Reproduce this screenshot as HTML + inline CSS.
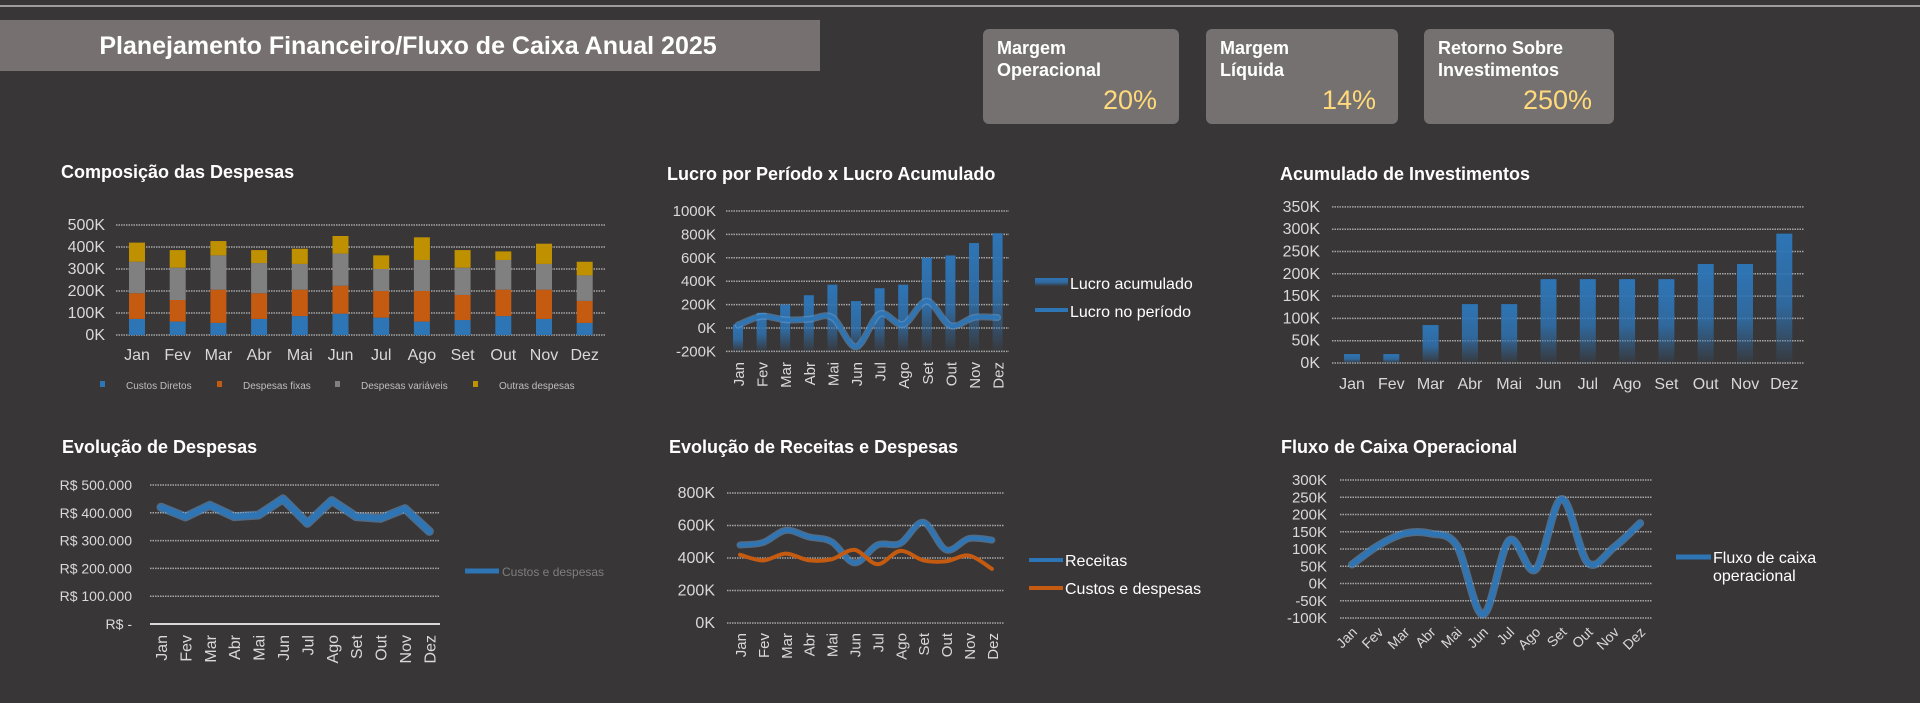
<!DOCTYPE html>
<html><head><meta charset="utf-8">
<style>
html,body{margin:0;padding:0;background:#383637;}
body{width:1920px;height:703px;overflow:hidden;position:relative;font-family:"Liberation Sans Narrow","Liberation Sans",sans-serif;}
.card{position:absolute;background:#767171;border-radius:6px;color:#fff;}
.card .lbl{position:absolute;left:14px;top:8px;font-weight:bold;font-size:18px;line-height:22px;}
.card .val{position:absolute;right:22px;top:56px;font-size:27px;color:#ffd97a;}
svg text{font-family:"Liberation Sans Narrow","Liberation Sans",sans-serif;}
</style></head>
<body>
<svg id="s" width="1920" height="703" style="position:absolute;left:0;top:0">
<defs>
<linearGradient id="bg1" x1="0" y1="0" x2="0" y2="1"><stop offset="0" stop-color="#2e75b6"/><stop offset="0.55" stop-color="#2e75b6" stop-opacity="0.8"/><stop offset="1" stop-color="#2e75b6" stop-opacity="0.05"/></linearGradient>
</defs>
<line x1="0" y1="6" x2="1920" y2="6" stroke="#bfbfbf" stroke-width="1.5"/>
<rect x="0" y="20" width="820" height="51" fill="#767170"/>
<text x="408" y="54" text-anchor="middle" fill="#fff" font-size="25" font-weight="bold">Planejamento Financeiro/Fluxo de Caixa Anual 2025</text>
<g id="charts"></g>
</svg>
<div class="card" style="left:983px;top:29px;width:196px;height:95px"><div class="lbl">Margem<br>Operacional</div><div class="val">20%</div></div>
<div class="card" style="left:1206px;top:29px;width:192px;height:95px"><div class="lbl">Margem<br>Líquida</div><div class="val">14%</div></div>
<div class="card" style="left:1424px;top:29px;width:190px;height:95px"><div class="lbl">Retorno Sobre<br>Investimentos</div><div class="val">250%</div></div>
<script>
const months=["Jan","Fev","Mar","Abr","Mai","Jun","Jul","Ago","Set","Out","Nov","Dez"];
const custosDiretos=[73,61,55,73,86,97,79,61,68,86,73,55];
const despesasFixas=[117,98,151,117,120,127,121,139,114,120,133,100];
const despesasVariaveis=[143,147,156,137,117,146,100,141,124,135,117,116];
const outrasDespesas=[87,80,65,59,69,80,62,103,80,39,92,62];
const lucroAcumulado=[30,130,200,280,370,230,340,370,600,620,726,810];
const lucroPeriodo=[25,100,70,75,90,-160,120,30,230,20,90,90];
const investAcumulado=[20,20,85,132,132,188,188,188,188,222,222,290];
const custosDespesas=[420,385,427,386,392,450,362,444,386,380,415,333];
const receitas=[480,495,570,530,500,370,480,490,620,450,520,510];
const fluxoCaixa=[55,110,145,145,110,-90,125,40,245,60,105,175];

const NS="http://www.w3.org/2000/svg";
const root=document.getElementById('charts');
function mk(tag,attrs,parent){const e=document.createElementNS(NS,tag);for(const k in attrs)e.setAttribute(k,attrs[k]);(parent||root).appendChild(e);return e;}
function txt(x,y,s,size,fill,anchor,extra){const e=mk('text',Object.assign({x:x,y:y,'font-size':size,fill:fill,'text-anchor':anchor||'start'},extra||{}));e.textContent=s;return e;}
function smooth(pts){let d="M"+pts[0][0]+","+pts[0][1];for(let i=0;i<pts.length-1;i++){const p0=pts[i-1]||pts[i],p1=pts[i],p2=pts[i+1],p3=pts[i+2]||p2;const c1=[p1[0]+(p2[0]-p0[0])/6,p1[1]+(p2[1]-p0[1])/6],c2=[p2[0]-(p3[0]-p1[0])/6,p2[1]-(p3[1]-p1[1])/6];d+=" C"+c1+" "+c2+" "+p2;}return d;}
function straight(pts){return "M"+pts.map(p=>p.join(",")).join(" L");}
function grid(x0,x1,yFn,ticks,labelFn,labelX,size){ticks.forEach(t=>{const y=yFn(t);const l=mk('line',{x1:x0,x2:x1,y1:y,y2:y,stroke:'#a6a6a6','stroke-width':1.5,'stroke-dasharray':'1.5 1'});const tx=txt(labelX,y+5,labelFn(t),size||16,'#d9d9d9','end');});}
function title(x,y,s){const t=txt(x,y,s,18,'#fff','start',{'font-weight':'bold'});}
function rotLabels(xFn,y,size){months.forEach((m,i)=>{const t=txt(xFn(i)+6,y,m,size,'#d9d9d9','end',{transform:'rotate(-90 '+(xFn(i)+6)+' '+y+')'});});}
function line(d,color,w,glow){if(glow){const g=mk('path',{d:d,fill:'none',stroke:'#6a9fd4','stroke-opacity':0.5,'stroke-width':w+3,'stroke-linejoin':'round','stroke-linecap':'round'});}const p=mk('path',{d:d,fill:'none',stroke:color,'stroke-width':w,'stroke-linejoin':'round','stroke-linecap':'round'});return p;}

// Chart 1
title(61,178,"Composição das Despesas");
{const y=v=>335-v*0.22, x=i=>137+i*40.7;
grid(116,606,y,[0,100,200,300,400,500],t=>t+"K",105,16);
const series=[custosDiretos,despesasFixas,despesasVariaveis,outrasDespesas],cols=['#2e75b6','#c55a11','#808080','#bf9000'],names=['bar-custos-diretos','bar-despesas-fixas','bar-despesas-variaveis','bar-outras-despesas'];
months.forEach((m,i)=>{let acc=0;series.forEach((s,k)=>{const r=mk('rect',{x:x(i)-8,y:y(acc+s[i]),width:16,height:s[i]*0.22,fill:cols[k]});acc+=s[i];});
const t=txt(x(i),360,m,16,'#d9d9d9','middle');});
const leg=[['Custos Diretos',100],['Despesas fixas',217],['Despesas variáveis',335],['Outras despesas',473]];
leg.forEach((l,k)=>{const r=mk('rect',{x:l[1],y:381,width:5,height:6,fill:cols[k]});const t=txt(l[1]+26,389,l[0],10,'#bfbfbf');});}

// Chart 2
title(667,180,"Lucro por Período x Lucro Acumulado");
{const y=v=>328-v*0.117, x=i=>738+i*23.6;
grid(726,1009,y,[-200,0,200,400,600,800,1000],t=>t+"K",716,15);
months.forEach((m,i)=>{const r=mk('rect',{x:x(i)-5,y:y(lucroAcumulado[i]),width:10,height:y(-200)-y(lucroAcumulado[i]),fill:'url(#bg1)'});});
line(smooth(lucroPeriodo.map((v,i)=>[x(i),y(v)])),'#2e75b6',4,true);
rotLabels(x,362,15);
const a=mk('rect',{x:1035,y:278,width:33,height:8,fill:'url(#bg1)'});
let t=txt(1070,289,'Lucro acumulado',16,'#fff');
const b=mk('line',{x1:1035,x2:1068,y1:310,y2:310,stroke:'#2e75b6','stroke-width':4});
t=txt(1070,317,'Lucro no período',16,'#fff');}

// Chart 3
title(1280,180,"Acumulado de Investimentos");
{const y=v=>363-v*0.446, x=i=>1352+i*39.3;
grid(1332,1804,y,[0,50,100,150,200,250,300,350],t=>t+"K",1320,16);
months.forEach((m,i)=>{const r=mk('rect',{x:x(i)-8,y:y(investAcumulado[i]),width:16,height:investAcumulado[i]*0.446,fill:'url(#bg1)'});
const t=txt(x(i),389,m,16,'#d9d9d9','middle');});}

// Chart 4
title(62,453,"Evolução de Despesas");
{const y=v=>624-v*0.278, x=i=>161+i*24.4;
grid(150,440,y,[0,100,200,300,400,500],t=>t===0?"R$ -":"R$ "+t+".000",132,14);
mk('line',{x1:150,x2:440,y1:624,y2:624,stroke:'#d9d9d9','stroke-width':2});
line(straight(custosDespesas.map((v,i)=>[x(i),y(v)])),'#2e75b6',6,true);
rotLabels(x,635,16);
const b=mk('line',{x1:465,x2:499,y1:571,y2:571,stroke:'#2e75b6','stroke-width':5});
const t=txt(502,576,'Custos e despesas',12,'#7f7f7f');}

// Chart 5
title(669,453,"Evolução de Receitas e Despesas");
{const y=v=>623-v*0.1625, x=i=>740+i*22.9;
grid(727,1004,y,[0,200,400,600,800],t=>t+"K",715,16);
line(smooth(receitas.map((v,i)=>[x(i),y(v)])),'#2e75b6',4,true);
line(smooth(custosDespesas.map((v,i)=>[x(i),y(v)])),'#c55a11',4,false);
rotLabels(x,633,15);
let b=mk('line',{x1:1029,x2:1063,y1:560,y2:560,stroke:'#2e75b6','stroke-width':4});
let t=txt(1065,566,'Receitas',16,'#fff');
b=mk('line',{x1:1029,x2:1063,y1:588,y2:588,stroke:'#c55a11','stroke-width':4});
t=txt(1065,594,'Custos e despesas',16,'#fff');}

// Chart 6
title(1281,453,"Fluxo de Caixa Operacional");
{const y=v=>583.5-v*0.345, x=i=>1352+i*26.2;
grid(1340,1652,y,[-100,-50,0,50,100,150,200,250,300],t=>t+"K",1327,15);
line(smooth(fluxoCaixa.map((v,i)=>[x(i),y(v)])),'#2e75b6',5,true);
months.forEach((m,i)=>{const t=txt(x(i)+6,633,m,14,'#d9d9d9','end',{transform:'rotate(-45 '+(x(i)+6)+' 633)'});});
const b=mk('line',{x1:1676,x2:1711,y1:557,y2:557,stroke:'#2e75b6','stroke-width':5});
let t=txt(1713,563,'Fluxo de caixa',16,'#fff');
t=txt(1713,581,'operacional',16,'#fff');}
</script>
</body></html>
